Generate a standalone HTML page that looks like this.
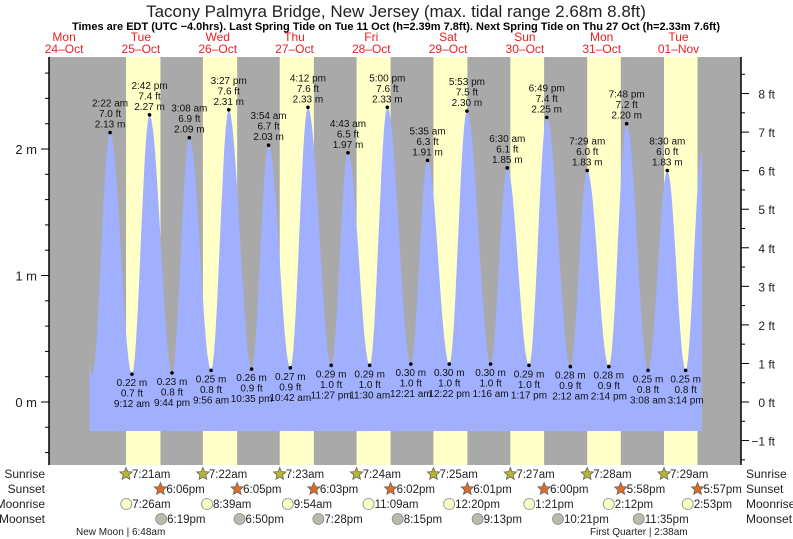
<!DOCTYPE html>
<html><head><meta charset="utf-8"><style>
body{margin:0;background:#fff;}
svg{display:block;font-family:"Liberation Sans",sans-serif;}
</style></head><body>
<svg id="c" width="793" height="539" viewBox="0 0 793 539">
<text x="396" y="17" font-size="17" text-anchor="middle" fill="#222">Tacony Palmyra Bridge, New Jersey (max. tidal range 2.68m 8.8ft)</text>
<text x="396" y="30" font-size="11" font-weight="bold" text-anchor="middle" fill="#000">Times are EDT (UTC −4.0hrs). Last Spring Tide on Tue 11 Oct (h=2.39m 7.8ft). Next Spring Tide on Thu 27 Oct (h=2.33m 7.6ft)</text>
</svg>
<script>
const days=["Mon","Tue","Wed","Thu","Fri","Sat","Sun","Mon","Tue"];
const dates=["24–Oct","25–Oct","26–Oct","27–Oct","28–Oct","29–Oct","30–Oct","31–Oct","01–Nov"];
// extremes: hours since Mon 24-Oct 00:00, heights in m
const tideTimes=[20.0,20.7,26.37,33.2,38.7,45.73,51.13,57.93,63.45,70.58,75.9,82.7,88.2,95.45,100.72,107.5,113.0,120.35,125.58,132.37,137.88,145.27,150.5,157.28,162.82,170.2,175.48,182.23,187.8,194.48,200.5,206.23,211.3];
const tideHeights=[0.30,0.20,2.13,0.22,2.27,0.23,2.09,0.25,2.31,0.26,2.03,0.27,2.33,0.29,1.97,0.29,2.33,0.30,1.91,0.30,2.30,0.30,1.85,0.29,2.25,0.28,1.83,0.28,2.20,0.25,1.83,0.25,1.98];
const extLabels=["","","2:22 am","9:12 am","2:42 pm","9:44 pm","3:08 am","9:56 am","3:27 pm","10:35 pm","3:54 am","10:42 am","4:12 pm","11:27 pm","4:43 am","11:30 am","5:00 pm","12:21 am","5:35 am","12:22 pm","5:53 pm","1:16 am","6:30 am","1:17 pm","6:49 pm","2:12 am","7:29 am","2:14 pm","7:48 pm","3:08 am","8:30 am","3:14 pm",""];
const sunrise=[31.35,55.37,79.38,103.4,127.42,151.45,175.47,199.48];
const sunset=[42.1,66.08,90.05,114.03,138.02,162.0,185.97,209.95];
const riseLabels=["7:21am","7:22am","7:23am","7:24am","7:25am","7:27am","7:28am","7:29am"];
const setLabels=["6:06pm","6:05pm","6:03pm","6:02pm","6:01pm","6:00pm","5:58pm","5:57pm"];
const moonrise=[31.43,56.65,81.9,107.15,132.33,157.35,182.2,206.88];
const moonriseLabels=["7:26am","8:39am","9:54am","11:09am","12:20pm","1:21pm","2:12pm","2:53pm"];
const moonset=[42.32,66.83,91.47,116.25,141.22,166.35,191.58];
const moonsetLabels=["6:19pm","6:50pm","7:28pm","8:15pm","9:13pm","10:21pm","11:35pm"];

const svg=document.getElementById('c');const NS="http://www.w3.org/2000/svg";
function el(t,a,p){const e=document.createElementNS(NS,t);for(const k in a)e.setAttribute(k,a[k]);(p||svg).appendChild(e);return e;}
const X0=49,X1=741,Y0=57,Y1=465;
const xs=h=>25.7+h*3.2;
const ym=m=>402-m*126.5;
const yf=f=>ym(f*0.3048);

let bg=el('rect',{x:X0,y:Y0,width:X1-X0,height:Y1-Y0,fill:'#a9a9a9'});


for(let i=0;i<sunrise.length;i++){
  let r=el('rect',{x:xs(sunrise[i]),y:Y0,width:xs(sunset[i])-xs(sunrise[i]),height:Y1-Y0,fill:'#ffffc8'});
  
  
}
// tide curve
let pts=[];
for(let i=0;i<tideTimes.length-1;i++){
  const t0=tideTimes[i],t1=tideTimes[i+1],h0=tideHeights[i],h1=tideHeights[i+1];
  for(let s=0;s<=12;s++){const f=s/12;const t=t0+(t1-t0)*f;const h=h0+(h1-h0)*(1-Math.cos(Math.PI*f))/2;pts.push([xs(t),ym(h)]);}
}
const BY=431;
let d=`M${pts[0][0]},${BY} `+pts.map(p=>`L${p[0].toFixed(1)},${p[1].toFixed(1)}`).join(' ')+` L${pts[pts.length-1][0]},${BY} Z`;
let area=el('path',{d,fill:'#a0b0ff'});


// extreme labels
for(let i=2;i<tideTimes.length-1;i++){
  const x=xs(tideTimes[i]),y=ym(tideHeights[i]);
  const high=tideHeights[i]>1;
  const c=el('circle',{cx:x,cy:y,r:1.8,fill:'#000'});
  
  
  const ft=(tideHeights[i]/0.3048).toFixed(1)+' ft', m=tideHeights[i].toFixed(2)+' m';
  const lines=high?[extLabels[i],ft,m]:[m,ft,extLabels[i]];
  const g=el('g',{'font-size':10,'text-anchor':'middle',fill:'#111'});
  
  
  lines.forEach((s,j)=>{const ty=high?y-26+j*10.5:y+12+j*10.5;const t=el('text',{x,y:ty},g);t.textContent=s;});
}
// axes
let la=el('line',{x1:X0,y1:Y0,x2:X0,y2:Y1,stroke:'#000','stroke-width':1.5});

let ra=el('line',{x1:X1,y1:Y0,x2:X1,y2:Y1,stroke:'#000','stroke-width':1.5});

for(let m=-0.4;m<=2.6;m+=0.2){const y=ym(m);if(y<Y0||y>Y1)continue;const major=Math.abs(m-Math.round(m))<0.01;
  el('line',{x1:major?X0-8:X0-4,y1:y,x2:X0,y2:y,stroke:'#000'});
  if(major){const t=el('text',{x:X0-12,y:y+5,'font-size':13,'text-anchor':'end',fill:'#222'});t.textContent=Math.round(m)+' m';
    }}
for(let f=-1.5;f<=8.5;f+=0.5){const y=yf(f);if(y<Y0||y>Y1)continue;const major=Math.abs(f-Math.round(f))<0.01;
  el('line',{x1:X1,y1:y,x2:major?X1+8:X1+4,y2:y,stroke:'#000'});
  if(major){const t=el('text',{x:X1+34,y:y+5,'font-size':12,'text-anchor':'end',fill:'#222'});t.textContent=(f<0?'−':'')+Math.abs(Math.round(f))+' ft';
    }}
// day labels
for(let i=0;i<days.length;i++){const x=xs(i*24+12);
  const g=el('g',{'font-size':12,'text-anchor':'middle',fill:'#e82020'});
  
  el('text',{x,y:41},g).textContent=days[i];el('text',{x,y:53},g).textContent=dates[i];}
// bottom rows
const rowY=[474,489,504,519],rowN=['Sunrise','Sunset','Moonrise','Moonset'];
rowN.forEach((n,i)=>{const a=el('text',{x:45,y:rowY[i]+4,'font-size':12,'text-anchor':'end',fill:'#222'});a.textContent=n;
  
  const b=el('text',{x:746,y:rowY[i]+4,'font-size':12,fill:'#222'});b.textContent=n;
  });
function star(x,y,fill){let p=[];for(let k=0;k<10;k++){const r=k%2?3:6.5,a=-Math.PI/2+k*Math.PI/5;p.push((x+r*Math.cos(a)).toFixed(1)+','+(y+r*Math.sin(a)).toFixed(1));}return el('polygon',{points:p.join(' '),fill,stroke:'#665','stroke-width':0.8});}
function ev(times,labels,row,kind){times.forEach((t,i)=>{const x=xs(t),y=rowY[row];let s;
  if(kind==='rise')s=star(x,y,'#b8b43a');else if(kind==='set')s=star(x,y,'#e06a2a');
  else s=el('circle',{cx:x,cy:y,r:5.5,fill:kind==='mrise'?'#ffffc8':'#bdb9ad',stroke:'#888','stroke-width':0.8});
  
  const tx=el('text',{x:x+6,y:y+4,'font-size':11.5,fill:'#222'});tx.textContent=labels[i];
  });}
ev(sunrise,riseLabels,0,'rise');ev(sunset,setLabels,1,'set');ev(moonrise,moonriseLabels,2,'mrise');ev(moonset,moonsetLabels,3,'mset');
let nm=el('text',{x:76,y:535,'font-size':10,fill:'#222'});nm.textContent='New Moon | 6:48am';

let fq=el('text',{x:590,y:535,'font-size':10,fill:'#222'});fq.textContent='First Quarter | 2:38am';

</script>
</body></html>
